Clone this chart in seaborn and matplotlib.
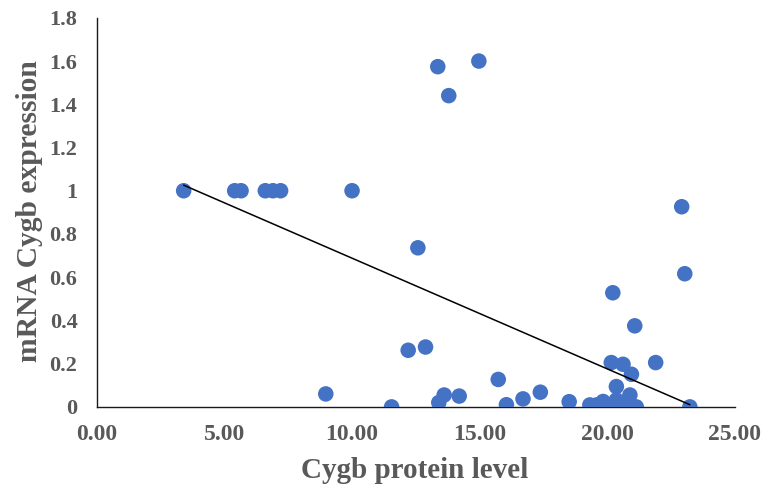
import numpy as np
import pandas as pd
import matplotlib
matplotlib.use("Agg")
import matplotlib.pyplot as plt
import seaborn as sns
from matplotlib.ticker import FuncFormatter, MultipleLocator

# ---------- Data ----------
protein = [3.40, 5.40, 5.65, 6.60, 6.90, 7.20, 10.00,
           13.36, 14.97, 13.79, 12.58, 22.92, 23.04, 20.22, 21.08,
           12.20, 12.88, 8.97, 11.55, 13.40, 13.61, 14.20, 15.73,
           16.05, 16.70, 17.38, 18.51,
           19.32, 19.58, 19.84, 20.03, 20.16, 20.36, 20.36, 20.62,
           20.89, 20.95, 21.14, 20.36, 20.16, 20.62, 20.95, 21.90, 23.24]
mrna = [1.00, 1.00, 1.00, 1.00, 1.00, 1.00, 1.00,
        1.574, 1.600, 1.440, 0.736, 0.926, 0.616, 0.528, 0.375,
        0.262, 0.277, 0.060, 0.000, 0.020, 0.055, 0.050, 0.127,
        0.010, 0.037, 0.068, 0.024,
        0.009, 0.009, 0.025, 0.000, 0.010, 0.000, 0.032, 0.005,
        0.055, 0.005, 0.000, 0.094, 0.205, 0.197, 0.151, 0.205, 0.000]

# Excel linear trendline as shown in the chart
trend_slope = -0.0512
trend_intercept = 1.200

df = pd.DataFrame({"Cygb protein level": protein, "mRNA Cygb expression": mrna})

# ---------- Plot ----------
sns.set_style("white")
plt.rcParams["font.family"] = ["Liberation Serif", "DejaVu Serif"]

fig = plt.figure(figsize=(7.63, 4.95), dpi=100)
ax = fig.add_axes([0.127, 0.178, 0.836, 0.786])

sns.scatterplot(data=df, x="Cygb protein level", y="mRNA Cygb expression",
                color="#4472C4", s=125, edgecolor="none", ax=ax, zorder=3)

# trendline spanning the data range
xs = np.array([df["Cygb protein level"].min(), df["Cygb protein level"].max()])
ax.plot(xs, trend_slope * xs + trend_intercept, color="black", lw=1.1, zorder=4)

ax.set_xlim(0, 25)
ax.set_ylim(0, 1.8)
ax.xaxis.set_major_locator(MultipleLocator(5))
ax.yaxis.set_major_locator(MultipleLocator(0.2))
ax.xaxis.set_major_formatter(FuncFormatter(lambda v, p: f"{v:.2f}"))
ax.yaxis.set_major_formatter(FuncFormatter(lambda v, p: f"{v:g}"))

for side in ["top", "right"]:
    ax.spines[side].set_visible(False)
for side in ["left", "bottom"]:
    ax.spines[side].set_color("#1a1a1a")
    ax.spines[side].set_linewidth(1.0)

ax.tick_params(axis="both", direction="out", length=5, width=1.0, color="#1a1a1a",
               labelcolor="#595959")
ax.tick_params(axis="x", labelsize=17, pad=7)
ax.tick_params(axis="y", labelsize=16, pad=9)
for lab in ax.get_xticklabels() + ax.get_yticklabels():
    lab.set_fontweight("bold")

ax.set_xlabel("Cygb protein level", fontsize=21, fontweight="bold", color="#595959")
ax.set_ylabel("mRNA Cygb expression", fontsize=21.3, fontweight="bold", color="#595959")
ax.xaxis.set_label_coords(0.498, -0.13)
ax.yaxis.set_label_coords(-0.084, 0.503)

fig.savefig("out.png", dpi=100)
